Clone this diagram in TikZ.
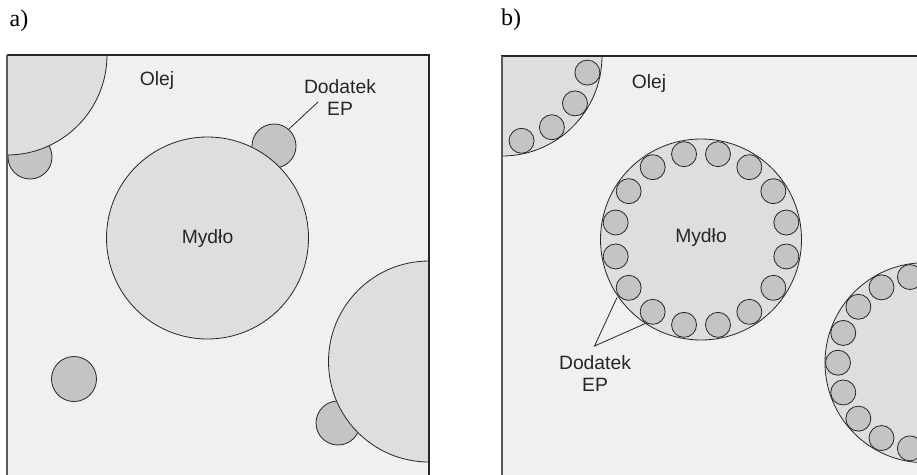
\documentclass[tikz,border=0pt]{standalone}
\usepackage{fontspec}
\setmainfont{Liberation Serif}
\setsansfont{Liberation Sans}
\definecolor{bgc}{HTML}{F0F0F0}
\definecolor{bigc}{HTML}{DEDEDE}
\definecolor{smallc}{HTML}{C4C4C4}
\definecolor{linec}{HTML}{262626}
\definecolor{edgec}{HTML}{5A5A5A}
\begin{document}
\begin{tikzpicture}[x=1pt,y=-1pt,
  lbl/.style={font=\sffamily\fontsize{19.3}{21.5}\selectfont, text=linec, inner sep=0pt, align=center},
  panellbl/.style={font=\fontsize{24}{24}\selectfont, inner sep=0pt},
  bigdisk/.style={fill=bigc, draw=linec, line width=0.8pt},
  smalldisk/.style={fill=smallc, draw=linec, line width=0.8pt},
  leader/.style={draw=linec, line width=0.8pt},
  frametop/.style={draw=linec, line width=1.2pt},
  frameside/.style={draw=edgec, line width=1.5pt}]
\useasboundingbox (0,0) rectangle (917,474);
\clip (0,0) rectangle (917,474);

% ---------- panel a ----------
\node[panellbl] (la) at (19,21) {a)};
\fill[bgc] (7,55) rectangle (429,480);
\begin{scope}
  \clip (7,55) rectangle (429,480);
  \draw[smalldisk] (30,157) circle[radius=22];
  \draw[smalldisk] (274,146) circle[radius=22];
  \draw[smalldisk] (338,423) circle[radius=22];
  \draw[smalldisk] (74,379) circle[radius=22.5];
  \draw[bigdisk] (7,55) circle[radius=100];
  \draw[bigdisk] (207.5,238) circle[radius=101];
  \draw[bigdisk] (429,361.5) circle[radius=100.5];
\end{scope}
\draw[frametop] (7,55) -- (429,55) -- (429,480);
\draw[frameside] (7,55) -- (7,480);
\node[lbl] (olejA) at (157,81) {Olej};
\node[lbl] (mydloA) at (207.5,239) {Mydło};
\node[lbl] (epA) at (340,97.5) {Dodatek\\EP};
\coordinate (epAtip) at (289,129);
\coordinate (epAend) at (318,102);
\draw[leader] (epAtip) -- (epAend);

% ---------- panel b ----------
\node[panellbl] (lb) at (511,20) {b)};
\fill[bgc] (502,56) rectangle (930,480);
\begin{scope}
  \clip (502,56) rectangle (930,480);
  \draw[bigdisk] (502,56) circle[radius=100];
  \foreach \a in {11,33,55,77}
    \draw[smalldisk] ([shift={(\a:87)}]502,56) circle[radius=12.5];
  \draw[bigdisk] (701,239.5) circle[radius=100.5];
  \foreach \k in {0,...,15}
    \draw[smalldisk] ([shift={(11.25+22.5*\k:87)}]701,239.5) circle[radius=12.5];
  \draw[bigdisk] (925,362.7) circle[radius=100];
  \foreach \k in {0,...,17}
    \draw[smalldisk] ([shift={(20*\k:87)}]925,362.7) circle[radius=12.5];
\end{scope}
\draw[frametop] (502,480) -- (502,56) -- (930,56);
\draw[frameside] (502,56) -- (502,480);
\node[lbl] (olejB) at (649,84) {Olej};
\node[lbl] (mydloB) at (701,238) {Mydło};
\node[lbl] (epB) at (595,373.5) {Dodatek\\EP};
\coordinate (apexB) at (594.5,346);
\coordinate (endB1) at (617,297.5);
\coordinate (endB2) at (646.5,323);
\draw[leader] (endB1) -- (apexB) -- (endB2);
\end{tikzpicture}
\end{document}
